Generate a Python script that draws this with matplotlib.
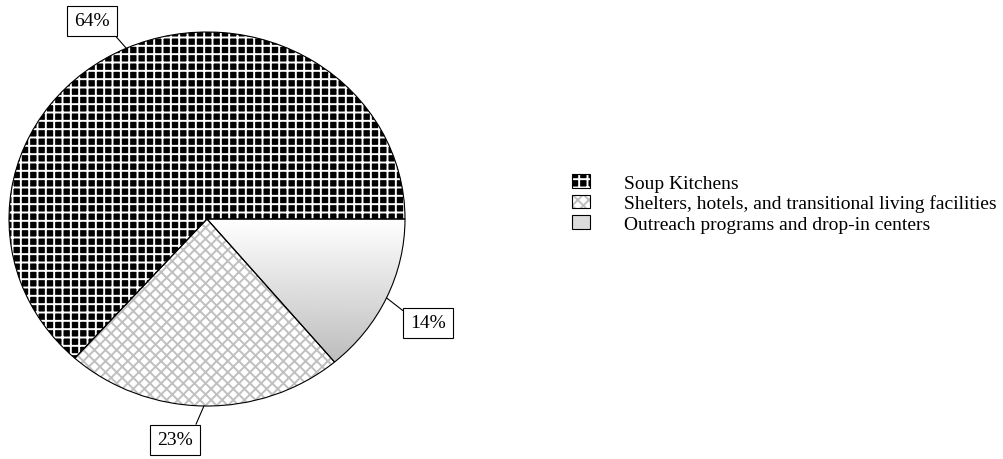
import numpy as np
import matplotlib
matplotlib.use('Agg')
import matplotlib.pyplot as plt
from matplotlib.patches import Patch

categories = ['Soup Kitchens',
              'Shelters, hotels, and transitional living facilities',
              'Outreach programs and drop-in centers']
shares = [64, 23, 14]
pct_labels = ['64%', '23%', '14%']

plt.rcParams['font.family'] = ['Liberation Serif', 'DejaVu Serif']
plt.rcParams['hatch.linewidth'] = 1.4

fig = plt.figure(figsize=(10.04, 4.6), dpi=100)
ax = fig.add_axes([9 / 1004, 53 / 460, 396 / 1004, 374 / 460])

# filled wedges (edgecolor is used as hatch colour)
wedges, _ = ax.pie(shares, startangle=0, counterclock=True, radius=1,
                   wedgeprops=dict(linewidth=0))
wedges[0].set_facecolor('black')
wedges[0].set_edgecolor('white')
wedges[0].set_hatch('++')
wedges[1].set_facecolor('white')
wedges[1].set_edgecolor('#c0c0c0')
wedges[1].set_hatch('xxx')
wedges[2].set_facecolor('none')
wedges[2].set_edgecolor('none')

# vertical gradient in the outreach slice
grad = np.linspace(0.66, 1.0, 256).reshape(-1, 1)
img = ax.imshow(grad, cmap='gray', vmin=0, vmax=1, extent=[0, 1, -1, 0],
                origin='lower', aspect='auto', zorder=1)
img.set_clip_path(wedges[2])

# outlines
ax.pie(shares, startangle=0, counterclock=True, radius=1,
       wedgeprops=dict(fill=False, edgecolor='black', linewidth=0.8))
ax.set_aspect('auto')
ax.set_xlim(-1, 1)
ax.set_ylim(-1, 1)

# percentage boxes with leader lines
text_pos = {'64%': (92, 22), '23%': (175, 441), '14%': (428, 324)}
line_start = {'64%': (1.0, 0.0), '23%': (1.0, 1.0), '14%': (0.0, 0.9)}
for w, lab in zip(wedges, pct_labels):
    mid = np.deg2rad((w.theta1 + w.theta2) / 2)
    px, py = text_pos[lab]
    ax.annotate(lab, xy=(np.cos(mid), np.sin(mid)), xycoords='data',
                xytext=(px / 1004, 1 - py / 460), textcoords='figure fraction',
                ha='center', va='center', fontsize=14,
                bbox=dict(boxstyle='square,pad=0.35', fc='white', ec='black', lw=0.8),
                arrowprops=dict(arrowstyle='-', color='black', lw=0.8,
                                shrinkA=0, shrinkB=0, relpos=line_start[lab]))

handles = [
    (Patch(facecolor='black', edgecolor='white', hatch='++', lw=0),
     Patch(fill=False, edgecolor='black', lw=0.8)),
    (Patch(facecolor='white', edgecolor='#c0c0c0', hatch='xxx', lw=0),
     Patch(fill=False, edgecolor='black', lw=0.8)),
    Patch(facecolor='#dcdcdc', edgecolor='black', lw=0.8),
]
fig.legend(handles, categories, loc='upper left',
           bbox_to_anchor=(572 / 1004, 1 - 175 / 460), frameon=False,
           fontsize=14, handlelength=0.95, handleheight=0.72,
           handletextpad=1.75, labelspacing=0.14, borderpad=0,
           borderaxespad=0)

fig.savefig('out.png', dpi=100)
